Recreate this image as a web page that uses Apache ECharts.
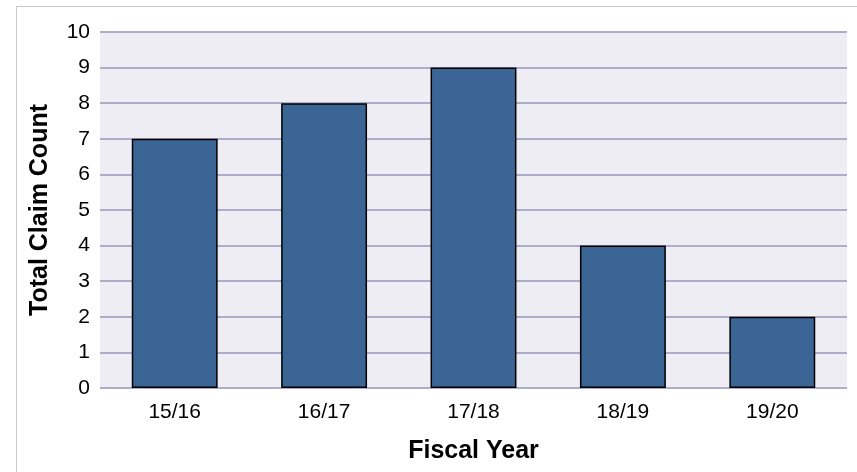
<!DOCTYPE html>
<html>
<head>
<meta charset="utf-8">
<script src="https://cdn.jsdelivr.net/npm/echarts@6/dist/echarts.min.js"></script>
<style>
  html, body { margin: 0; padding: 0; background: #fff; }
  #frame { position: absolute; left: 16px; top: 6px; width: 860px; height: 480px; border: 1px solid #c8c8c8; box-sizing: border-box; }
  #chart { position: absolute; left: 0; top: 0; width: 857px; height: 472px; }
</style>
</head>
<body>
<div id="frame"></div>
<div id="chart"></div>
<script>
// fiscal years and claim counts
var years = ['15/16', '16/17', '17/18', '18/19', '19/20'];
var claims = [7, 8, 9, 4, 2];

var chartDom = document.getElementById('chart');
var myChart = echarts.init(chartDom);

var option = {
    animation: false,
    grid: {
        left: 100,
        right: 10,
        top: 32,
        bottom: 84,
        show: true,
        backgroundColor: '#eeedf3',
        borderWidth: 0
    },
    xAxis: {
        type: 'category',
        data: years,
        name: 'Fiscal Year',
        nameLocation: 'middle',
        nameGap: 51,
        nameTextStyle: {
            fontFamily: 'Liberation Sans',
            fontSize: 25,
            fontWeight: 'bold',
            color: '#000'
        },
        axisLine: { show: false },
        axisTick: { show: false },
        axisLabel: {
            fontFamily: 'Liberation Sans',
            fontSize: 21,
            color: '#000',
            margin: 14
        }
    },
    yAxis: {
        type: 'value',
        min: 0,
        max: 10,
        interval: 1,
        name: 'Total Claim Count',
        nameLocation: 'middle',
        nameGap: 47,
        nameTextStyle: {
            fontFamily: 'Liberation Sans',
            fontSize: 25,
            fontWeight: 'bold',
            color: '#000'
        },
        axisLine: { show: false },
        axisTick: { show: false },
        axisLabel: {
            fontFamily: 'Liberation Sans',
            fontSize: 21,
            color: '#000',
            margin: 10
        },
        splitLine: {
            lineStyle: { color: '#aeaccb', width: 2 }
        }
    },
    series: [{
        type: 'bar',
        data: claims,
        barWidth: '57.5%',
        itemStyle: {
            color: '#3a6595',
            borderColor: '#000',
            borderWidth: 1.5
        }
    }]
};

myChart.setOption(option);
</script>
</body>
</html>
